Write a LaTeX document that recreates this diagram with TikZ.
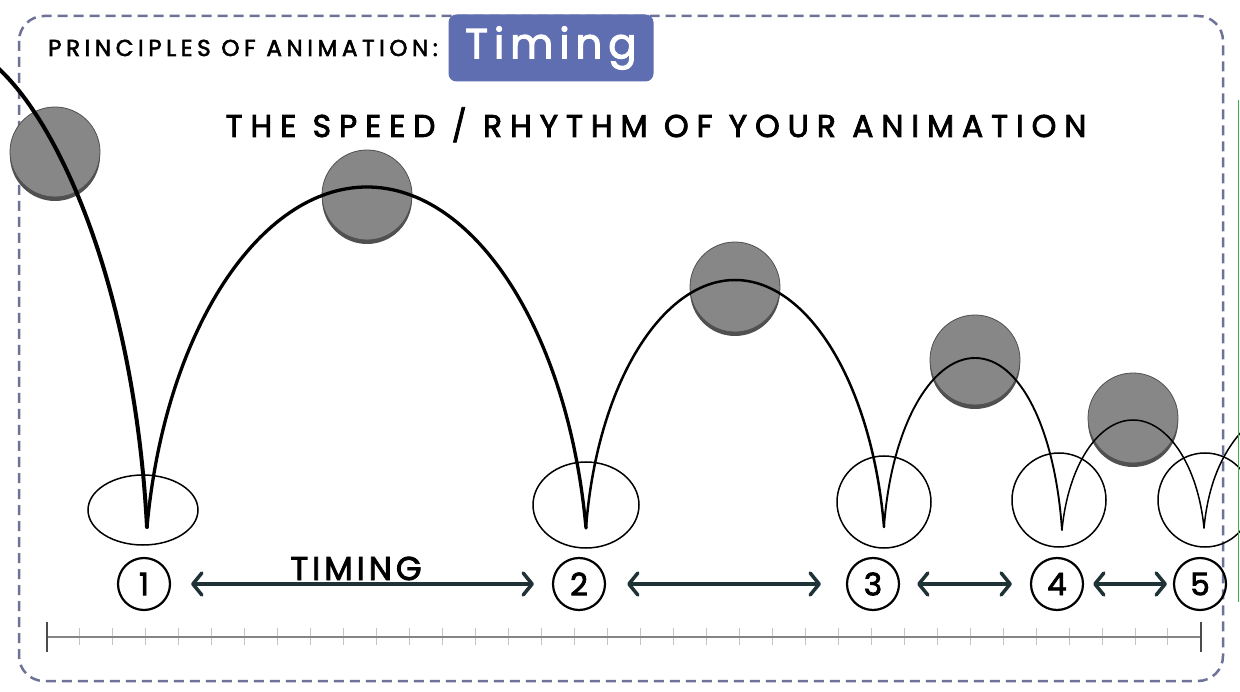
\documentclass[tikz,border=0pt]{standalone}
\usepackage{fontspec}
\setmainfont{Poppins}
\newfontfamily\handfont[FakeBold=2.5]{Poppins}
\usetikzlibrary{arrows.meta,shapes.geometric,shadows,positioning}

\definecolor{framecol}{HTML}{6E7298}
\definecolor{tagblue}{HTML}{5F6DB1}
\definecolor{arrowcol}{HTML}{1F3336}
\definecolor{ballgray}{HTML}{878787}
\definecolor{ballshade}{HTML}{505050}
\definecolor{tickgray}{HTML}{C4C4C4}
\definecolor{linegray}{HTML}{858585}
\definecolor{screengreen}{HTML}{35B24A}

\tikzset{
  frame/.style={draw=framecol, line width=2.5pt, dash pattern=on 10pt off 6pt, rounded corners=25pt},
  tag/.style={fill=tagblue, rounded corners=8pt, text=white, minimum width=205pt, minimum height=67pt, inner sep=0pt,
    font={\handfont\fontsize{42}{42}\selectfont\addfontfeatures{LetterSpace=14}}},
  heading/.style={inner sep=0pt, anchor=base west, font={\handfont\fontsize{23}{23}\selectfont\addfontfeatures{LetterSpace=20}}},
  subheading/.style={inner sep=0pt, anchor=base, font={\handfont\fontsize{31.5}{31.5}\selectfont\addfontfeatures{LetterSpace=25}}},
  ball/.style={circle, inner sep=0pt, minimum size=90pt, fill=ballgray, draw=ballshade, line width=0.8pt,
    drop shadow={shadow xshift=0pt, shadow yshift=-4pt, fill=ballshade, opacity=1}},
  ring/.style={ellipse, draw, line width=1.5pt, inner sep=0pt},
  numcircle/.style={circle, draw, line width=2.2pt, minimum size=52pt, inner sep=0pt, font={\handfont\fontsize{31}{31}\selectfont}},
  timearrow/.style={draw=arrowcol, line width=3.5pt, line cap=round,
    {Straight Barb[length=9pt, width=22pt, line cap=round, line join=round]}-{Straight Barb[length=9pt, width=22pt, line cap=round, line join=round]}},
  bounce/.style={draw, line cap=round},
  tick/.style={draw=tickgray, line width=1pt},
  endtick/.style={draw=black!70, line width=1.5pt},
}

\begin{document}
\begin{tikzpicture}[x=1pt, y=-1pt]
\fill[white] (0,0) rectangle (1240,692);
\useasboundingbox (0,0) rectangle (1240,692);

% frame and titles
\draw[frame] (19,16) rectangle (1223,681);
\node[tag] (tag) at (551,48) {Timing};
\node[heading] (principles) at (48,56) {PRINCIPLES OF ANIMATION:};
\node[subheading] (speed) at (656,137) {THE SPEED / RHYTHM OF YOUR ANIMATION};

% balls
\node[ball] (ball1) at (55,152) {};
\node[ball] (ball2) at (367,195) {};
\node[ball] (ball3) at (735,287) {};
\node[ball] (ball4) at (975,360) {};
\node[ball] (ball5) at (1133,418) {};

% landing rings
\node[ring, minimum width=110pt, minimum height=70pt] (ring1) at (143,510) {};
\node[ring, minimum width=106pt, minimum height=86pt] (ring2) at (586,505) {};
\node[ring, minimum width=94pt, minimum height=92pt] (ring3) at (884,502) {};
\node[ring, minimum width=94pt, minimum height=94pt] (ring4) at (1059,500) {};
\node[ring, minimum width=94pt, minimum height=94pt] (ring5) at (1205,500) {};

% bounce path
\coordinate (hit1) at (147,527);
\coordinate (hit2) at (586,528);
\coordinate (hit3) at (884,527);
\coordinate (hit4) at (1062,530);
\coordinate (hit5) at (1204,528);
\draw[bounce, line width=4pt] (-2,68) .. controls (65,130) and (135,300) .. (hit1);
\draw[bounce, line width=3.3pt] (hit1) .. controls (165,330) and (260,187) .. (367,187)
  .. controls (474,187) and (568,330) .. (hit2);
\draw[bounce, line width=2.5pt] (hit2) .. controls (597,384) and (662,280) .. (735,280)
  .. controls (808,280) and (872,384) .. (hit3);
\draw[bounce, line width=1.9pt] (hit3) .. controls (891,429) and (930,358) .. (975,358)
  .. controls (1020,358) and (1055,429) .. (hit4);
\draw[bounce, line width=1.5pt] (hit4) .. controls (1068,466) and (1098,420) .. (1133,420)
  .. controls (1168,420) and (1198,466) .. (hit5);
\draw[bounce, line width=1.5pt] (hit5) .. controls (1208,485) and (1222,450) .. (1248,425);

% numbers and timing arrows
\node[numcircle] (n1) at (144,584) {1};
\node[numcircle] (n2) at (579,584) {2};
\node[numcircle] (n3) at (873,584) {3};
\node[numcircle] (n4) at (1057,584) {4};
\node[numcircle] (n5) at (1200,584) {5};
\draw[timearrow, shorten <=20pt, shorten >=18pt] (n1) -- (n2);
\draw[timearrow, shorten <=21pt, shorten >=25pt] (n2) -- (n3);
\draw[timearrow, shorten <=17pt, shorten >=18pt] (n3) -- (n4);
\draw[timearrow, shorten <=9pt, shorten >=6pt] (n4) -- (n5);
\node[heading, anchor=base, font={\handfont\fontsize{33}{33}\selectfont\addfontfeatures{LetterSpace=12}}] (timing) at (356,580) {TIMING};

% timeline
\coordinate (tstart) at (47,637);
\coordinate (tend) at (1201,637);
\foreach \k in {1,...,34}
  \draw[tick] ({47+\k*32.97},628) -- ++(0,17);
\draw[draw=linegray, line width=1.5pt] (tstart) -- (tend);
\draw[endtick] (47,622) -- (47,652);
\draw[endtick] (1201,622) -- (1201,652);

\draw[screengreen, line width=1.5pt] (1238.5,100) -- (1238.5,602);
\end{tikzpicture}
\end{document}
